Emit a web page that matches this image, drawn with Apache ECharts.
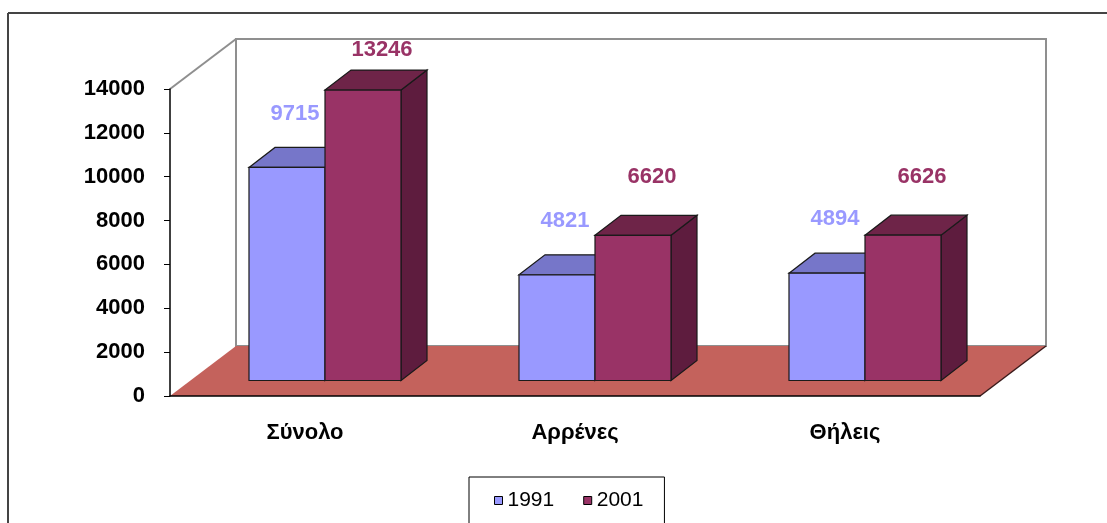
<!DOCTYPE html>
<html>
<head>
<meta charset="utf-8">
<script src="https://cdn.jsdelivr.net/npm/echarts@6/dist/echarts.min.js"></script>
<style>
  html, body { margin: 0; padding: 0; background: #fff; }
  #main { width: 1107px; height: 523px; }
</style>
</head>
<body>
<div id="main"></div>
<script>
// data
var categories = ['Σύνολο', 'Αρρένες', 'Θήλεις'];
var years = ['1991', '2001'];
var values1991 = [9715, 4821, 4894];
var values2001 = [13246, 6620, 6626];
var yTicks = [0, 2000, 4000, 6000, 8000, 10000, 12000, 14000];

var FONT = '"Liberation Sans", Arial, sans-serif';

// 3d look (pixels)
var DEPTH_X = 66, DEPTH_Y = 50;      // floor / wall depth
var SET_X = 20, SET_Y = 15.5;        // bars are set back from the front edge
var BAR_DX = 26, BAR_DY = 20;        // bar depth
var BAR_W = 0.2815;                  // part of the band

var looks = {
  '1991': { front: '#9999FF', top: '#7676C9', side: '#5E5EA6', label: '#9999FF', off: -1, lx: 8, ly: 54 },
  '2001': { front: '#993366', top: '#6E2448', side: '#5E1C3E', label: '#993366', off: 0, lx: 19, ly: 58 }
};

function toData(arr) {
  return arr.map(function (v, i) { return [i, v]; });
}

function barRender(year) {
  var lk = looks[year];
  return function (params, api) {
    var i = api.value(0), v = api.value(1);
    var base = api.coord([i, 0]);
    var top = api.coord([i, v]);
    var band = api.size([1, 0])[0];
    var w = band * BAR_W;
    var x0 = base[0] + SET_X + lk.off * w;
    var yb = base[1] - SET_Y;
    var yt = top[1] - SET_Y;
    var stroke = { stroke: '#1a1a1a', lineWidth: 1.2 };
    var ly = Math.max(yt - lk.ly, params.coordSys.y - 39);
    return {
      type: 'group',
      children: [
        { type: 'polygon', shape: { points: [[x0 + w, yt], [x0 + w + BAR_DX, yt - BAR_DY], [x0 + w + BAR_DX, yb - BAR_DY], [x0 + w, yb]] },
          style: Object.assign({ fill: lk.side }, stroke) },
        { type: 'polygon', shape: { points: [[x0, yt], [x0 + BAR_DX, yt - BAR_DY], [x0 + w + BAR_DX, yt - BAR_DY], [x0 + w, yt]] },
          style: Object.assign({ fill: lk.top }, stroke) },
        { type: 'rect', shape: { x: x0, y: yt, width: w, height: yb - yt },
          style: Object.assign({ fill: lk.front }, stroke) },
        { type: 'text', style: { text: String(v), x: x0 + w / 2 + lk.lx, y: ly, align: 'center', verticalAlign: 'middle',
          fill: lk.label, fontSize: 22, fontWeight: 'bold', fontFamily: FONT } }
      ]
    };
  };
}

// back wall, side wall and floor
function wallRender(params, api) {
  var cs = params.coordSys;
  var l = cs.x, t = cs.y, r = cs.x + cs.width, b = cs.y + cs.height;
  var grey = { stroke: '#8f8f8f', lineWidth: 2 };
  return {
    type: 'group',
    children: [
      { type: 'polygon', shape: { points: [[l + DEPTH_X, t - DEPTH_Y], [r + DEPTH_X, t - DEPTH_Y], [r + DEPTH_X, b - DEPTH_Y], [l + DEPTH_X, b - DEPTH_Y]] },
        style: Object.assign({ fill: '#fff' }, grey) },
      { type: 'line', shape: { x1: l, y1: t, x2: l + DEPTH_X, y2: t - DEPTH_Y }, style: grey },
      { type: 'polygon', shape: { points: [[l, b], [r, b], [r + DEPTH_X, b - DEPTH_Y], [l + DEPTH_X, b - DEPTH_Y]] },
        style: { fill: '#C4625C' } },
      { type: 'line', shape: { x1: r, y1: b, x2: r + DEPTH_X, y2: b - DEPTH_Y }, style: { stroke: '#3a1a1a', lineWidth: 1.5 } }
    ]
  };
}

var chart = echarts.init(document.getElementById('main'));

var option = {
  backgroundColor: '#fff',
  animation: false,
  graphic: [
    { type: 'line', shape: { x1: 8, y1: 13, x2: 1107, y2: 13 }, style: { stroke: '#444', lineWidth: 2 } },
    { type: 'line', shape: { x1: 8, y1: 13, x2: 8, y2: 523 }, style: { stroke: '#444', lineWidth: 2 } }
  ],
  grid: { left: 170, top: 89, width: 810, height: 307 },
  legend: {
    data: years,
    left: 469,
    top: 477,
    icon: 'rect',
    itemWidth: 8,
    itemHeight: 8,
    itemGap: 29,
    padding: [13, 21, 30, 25],
    borderColor: '#000',
    borderWidth: 1,
    itemStyle: { borderColor: '#000', borderWidth: 1 },
    textStyle: { fontSize: 21, color: '#000', fontFamily: FONT }
  },
  xAxis: {
    type: 'category',
    data: categories,
    z: 10,
    axisLine: { lineStyle: { color: '#000', width: 1.5 } },
    axisTick: { length: 8, lineStyle: { color: '#000' } },
    axisLabel: { margin: 26, fontSize: 22, fontWeight: 'bold', color: '#000', fontFamily: FONT }
  },
  yAxis: {
    type: 'value',
    min: yTicks[0],
    max: yTicks[yTicks.length - 1],
    interval: yTicks[1] - yTicks[0],
    z: 10,
    axisLine: { show: true, lineStyle: { color: '#000', width: 1.5 } },
    axisTick: { show: true, length: 6, lineStyle: { color: '#000' } },
    splitLine: { show: false },
    axisLabel: {
      margin: 25, fontSize: 22, fontWeight: 'bold', color: '#000', fontFamily: FONT,
      formatter: function (v) { return String(v); }
    }
  },
  series: [
    {
      name: 'walls',
      type: 'custom',
      silent: true,
      clip: false,
      z: 1,
      renderItem: wallRender,
      data: [[0, 0]]
    },
    {
      name: years[0],
      type: 'custom',
      clip: false,
      z: 2,
      itemStyle: { color: looks['1991'].front },
      encode: { x: 0, y: 1 },
      renderItem: barRender('1991'),
      data: toData(values1991)
    },
    {
      name: years[1],
      type: 'custom',
      clip: false,
      z: 3,
      itemStyle: { color: looks['2001'].front },
      encode: { x: 0, y: 1 },
      renderItem: barRender('2001'),
      data: toData(values2001)
    }
  ]
};

chart.setOption(option);
</script>
</body>
</html>
